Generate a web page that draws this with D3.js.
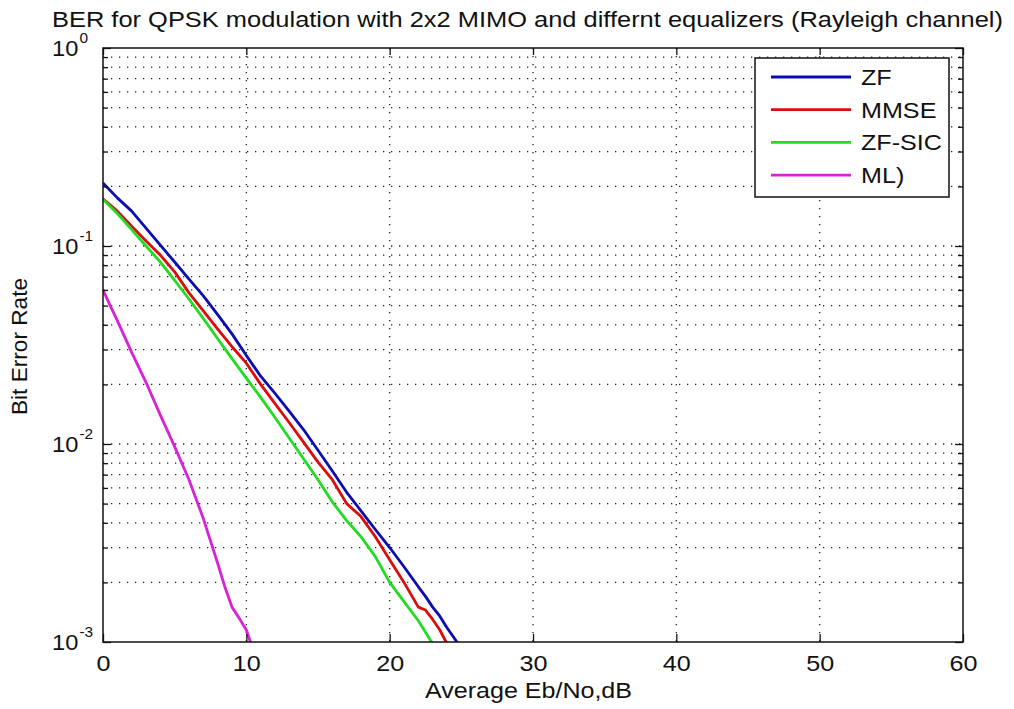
<!DOCTYPE html>
<html lang="en">
<head>
<meta charset="UTF-8">
<title>BER for QPSK with 2x2 MIMO</title>
<script src="https://d3js.org/d3.v7.min.js"></script>
<style>
    body { margin: 0; background: #fff; }
    svg text { font-family: "Liberation Sans", Arial, sans-serif; fill: #111; }
    .grid line { stroke: #222; stroke-width: 1.3; stroke-dasharray: 1.3 6.7; }
</style>
</head>
<body>
<div id="chart"></div>
<script>
    // Eb/No in dB
    const snrMain = [0,1,2,3,4,5,6,7,8,9,10,11,12,13,14,15,16,17,18,19,20,21,22,22.5,23,23.5,24,25,26];
    const berZF   = [0.208,0.175,0.150,0.123,0.101,0.083,0.068,0.056,0.045,0.036,0.028,0.022,0.018,0.0146,0.0118,0.0093,0.0073,0.0057,0.0046,0.0037,0.0030,0.0024,0.0019,0.0017,0.0015,0.00135,0.00118,0.00093,0.0007];
    const berMMSE = [0.173,0.150,0.126,0.106,0.090,0.074,0.058,0.047,0.038,0.031,0.0256,0.020,0.016,0.0128,0.0102,0.0081,0.0066,0.0050,0.0043,0.0034,0.0026,0.0020,0.0015,0.00145,0.0013,0.00115,0.00098,0.0008,0.0006];
    const snrSIC  = [0,1,2,3,4,5,6,7,8,9,10,11,12,13,14,15,16,17,18,19,20,21,22,23,24];
    const berSIC  = [0.172,0.146,0.121,0.100,0.083,0.067,0.054,0.043,0.034,0.027,0.0215,0.0172,0.0136,0.0107,0.0084,0.0066,0.0051,0.0041,0.0034,0.0027,0.0020,0.0016,0.00128,0.00098,0.0008];
    const snrML   = [0,0.5,1,2,3,4,5,6,7,8,8.5,9,9.5,10,10.5,11];
    const berML   = [0.060,0.050,0.042,0.029,0.0205,0.014,0.0097,0.0066,0.0042,0.0025,0.0019,0.0015,0.00132,0.00115,0.0009,0.0007];

    const seriesNames  = ["ZF", "MMSE", "ZF-SIC", "ML)"];
    const seriesColors = ["#0c0cb4", "#dc0c0c", "#22dc22", "#d822d8"];

    const xTicks = [0, 10, 20, 30, 40, 50, 60];
    const yMajor = [1e-3, 1e-2, 1e-1, 1];
    const yExp   = [-3, -2, -1, 0];

    const width = 1014, height = 709;
    const margin = { left: 103, right: 51, top: 48, bottom: 67 };
    const fs = 21.5;     // base font size
    const sx = 1.17;     // text in the original is drawn a bit wide

    const svg = d3.select("#chart").append("svg")
        .attr("width", width)
        .attr("height", height);

    const x = d3.scaleLinear().domain([0, 60]).range([margin.left, width - margin.right]);
    const y = d3.scaleLog().domain([1e-3, 1]).range([height - margin.bottom, margin.top]);

    // minor positions 2..9 in every decade
    const yMinor = [];
    yMajor.slice(0, 3).forEach(d => { for (let k = 2; k <= 9; k++) yMinor.push(d * k); });

    // grid
    const grid = svg.append("g").attr("class", "grid");
    grid.selectAll(".gy").data(yMajor.concat(yMinor).filter(d => d > 1e-3 && d < 1)).enter()
        .append("line")
        .attr("x1", x(0)).attr("x2", x(60))
        .attr("y1", d => y(d)).attr("y2", d => y(d));
    grid.selectAll(".gx").data(xTicks.slice(1, -1)).enter()
        .append("line")
        .attr("y1", y(1)).attr("y2", y(1e-3))
        .attr("x1", d => x(d)).attr("x2", d => x(d));

    // lines
    svg.append("clipPath").attr("id", "clip")
        .append("rect")
        .attr("x", x(0)).attr("y", y(1))
        .attr("width", x(60) - x(0)).attr("height", y(1e-3) - y(1));

    const series = [
        { snr: snrMain, ber: berZF },
        { snr: snrMain, ber: berMMSE },
        { snr: snrSIC,  ber: berSIC },
        { snr: snrML,   ber: berML }
    ];

    const line = d3.line().x(d => x(d[0])).y(d => y(d[1]));

    svg.append("g").attr("clip-path", "url(#clip)")
        .selectAll("path")
        .data(series)
        .enter()
        .append("path")
        .attr("fill", "none")
        .attr("stroke", (d, i) => seriesColors[i])
        .attr("stroke-width", 2.8)
        .attr("stroke-linejoin", "round")
        .attr("d", d => line(d.snr.map((s, i) => [s, d.ber[i]])));

    // axes
    const styleAxis = g => {
        g.select(".domain").remove();
        g.selectAll(".tick line").attr("stroke", "#111").attr("stroke-width", 1.3);
    };

    svg.append("g")
        .attr("transform", `translate(0,${y(1e-3)})`)
        .call(d3.axisBottom(x).tickValues(xTicks).tickSize(-8).tickPadding(14).tickFormat(d3.format("d")))
        .call(styleAxis)
        .call(g => g.selectAll("text")
            .attr("font-size", fs).attr("fill", "#111")
            .attr("transform", `scale(${sx},1)`));

    svg.append("g")
        .attr("transform", `translate(0,${y(1)})`)
        .call(d3.axisTop(x).tickValues(xTicks).tickSize(-7).tickFormat(""))
        .call(styleAxis);

    const yAxisL = svg.append("g")
        .attr("transform", `translate(${x(0)},0)`)
        .call(d3.axisLeft(y).tickValues(yMajor).tickSize(-8).tickFormat(""))
        .call(styleAxis);

    yAxisL.selectAll(".tick text")
        .attr("font-size", fs)
        .attr("fill", "#111")
        .attr("dy", "0.36em")
        .attr("text-anchor", "start")
        .attr("x", -51 / 1.1)
        .attr("transform", "scale(1.1,1)")
        .each(function (d, i) {
            const t = d3.select(this);
            t.text("10");
            t.append("tspan")
                .attr("font-size", 14)
                .attr("dy", -13)
                .attr("dx", 1)
                .text(yExp[i]);
        });

    svg.append("g")
        .attr("transform", `translate(${x(0)},0)`)
        .call(d3.axisLeft(y).tickValues(yMinor).tickSize(-5).tickFormat(""))
        .call(styleAxis);

    svg.append("g")
        .attr("transform", `translate(${x(60)},0)`)
        .call(d3.axisRight(y).tickValues(yMajor).tickSize(-8).tickFormat(""))
        .call(styleAxis);

    svg.append("g")
        .attr("transform", `translate(${x(60)},0)`)
        .call(d3.axisRight(y).tickValues(yMinor).tickSize(-5).tickFormat(""))
        .call(styleAxis);

    // frame
    svg.append("rect")
        .attr("x", x(0)).attr("y", y(1))
        .attr("width", x(60) - x(0)).attr("height", y(1e-3) - y(1))
        .attr("fill", "none")
        .attr("stroke", "#111")
        .attr("stroke-width", 1.5);

    // titles
    svg.append("text")
        .attr("x", 52).attr("y", 27)
        .attr("font-size", fs)
        .attr("textLength", 951)
        .attr("lengthAdjust", "spacingAndGlyphs")
        .text("BER for QPSK modulation with 2x2 MIMO and differnt equalizers (Rayleigh channel)");

    svg.append("text")
        .attr("x", 425).attr("y", 698)
        .attr("font-size", fs)
        .attr("textLength", 207)
        .attr("lengthAdjust", "spacingAndGlyphs")
        .text("Average Eb/No,dB");

    svg.append("text")
        .attr("transform", "translate(27,415) rotate(-90)")
        .attr("font-size", fs)
        .attr("textLength", 137)
        .attr("lengthAdjust", "spacingAndGlyphs")
        .text("Bit Error Rate");

    // legend
    const legend = svg.append("g").attr("transform", "translate(755,58)");
    legend.append("rect")
        .attr("width", 194).attr("height", 139)
        .attr("fill", "#fff")
        .attr("stroke", "#111")
        .attr("stroke-width", 1.5);

    const rows = legend.selectAll(".row")
        .data(seriesNames)
        .enter()
        .append("g")
        .attr("transform", (d, i) => `translate(0,${19 + i * 32.7})`);

    rows.append("line")
        .attr("x1", 16).attr("x2", 96)
        .attr("stroke", (d, i) => seriesColors[i])
        .attr("stroke-width", 2.8);

    rows.append("text")
        .attr("transform", `translate(106,8) scale(${sx},1)`)
        .attr("font-size", fs)
        .text(d => d);
</script>
</body>
</html>
